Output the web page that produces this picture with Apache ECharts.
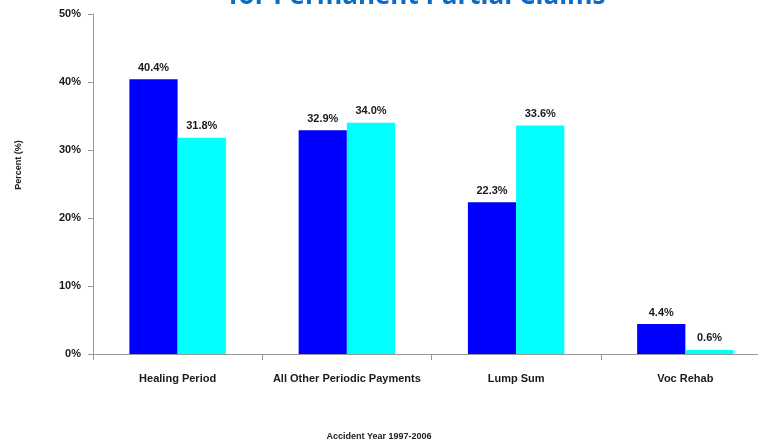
<!DOCTYPE html>
<html><head><meta charset="utf-8">
<script src="https://cdn.jsdelivr.net/npm/echarts@6/dist/echarts.min.js"></script>
<style>html,body{margin:0;padding:0;background:#fff}#c{width:758px;height:446px}</style>
</head><body><div id="c"></div>
<script>
const categories = ['Healing Period', 'All Other Periodic Payments', 'Lump Sum', 'Voc Rehab'];
const seriesA = [40.4, 32.9, 22.3, 4.4];
const seriesB = [31.8, 34.0, 33.6, 0.6];
const yTicks = [0, 10, 20, 30, 40, 50];

const font = 'Liberation Sans';
const chart = echarts.init(document.getElementById('c'));
const lbl = {show: true, position: 'top', distance: 6, formatter: p => p.value.toFixed(1) + '%',
  fontFamily: font, fontWeight: 'bold', fontSize: 11, color: '#1a1a1a'};
chart.setOption({
  animation: false,
  title: {text: 'for Permanent Partial Claims', left: 412, textAlign: 'center', top: -21,
    textStyle: {fontFamily: 'Open Sans', fontWeight: 'bold', fontSize: 26, color: '#0A6CC4'}},
  graphic: [
    {type: 'text', left: 'center', top: 432, style: {text: 'Accident Year 1997-2006',
      font: 'bold 9px "Liberation Sans"', fill: '#222'}},
    {type: 'text', x: 19, y: 165, rotation: Math.PI / 2, style: {text: 'Percent (%)',
      font: 'bold 9px "Liberation Sans"', fill: '#222', align: 'center', verticalAlign: 'middle'}}
  ],
  grid: {left: 93, right: -12, top: 14, bottom: 92, outerBoundsMode: 'none'},
  xAxis: {type: 'category', data: categories,
    axisLine: {lineStyle: {color: '#999'}},
    axisTick: {show: true, length: 6, lineStyle: {color: '#999'}},
    axisLabel: {margin: 19, fontFamily: font, fontWeight: 'bold', fontSize: 11, color: '#1a1a1a', interval: 0}},
  yAxis: {type: 'value', min: 0, max: 50, interval: 10,
    axisLine: {show: true, lineStyle: {color: '#999'}},
    axisTick: {show: true, length: 5, lineStyle: {color: '#999'}},
    splitLine: {show: false},
    axisLabel: {margin: 12, formatter: v => (yTicks.includes(v) ? v + '%' : ''), fontFamily: font, fontWeight: 'bold', fontSize: 11, color: '#1a1a1a'}},
  series: [
    {type: 'bar', data: seriesA, barGap: '0%', barCategoryGap: '43%', itemStyle: {color: '#0000FF'}, label: lbl},
    {type: 'bar', data: seriesB, itemStyle: {color: '#00FFFF'}, label: lbl}
  ]
});
</script></body></html>
